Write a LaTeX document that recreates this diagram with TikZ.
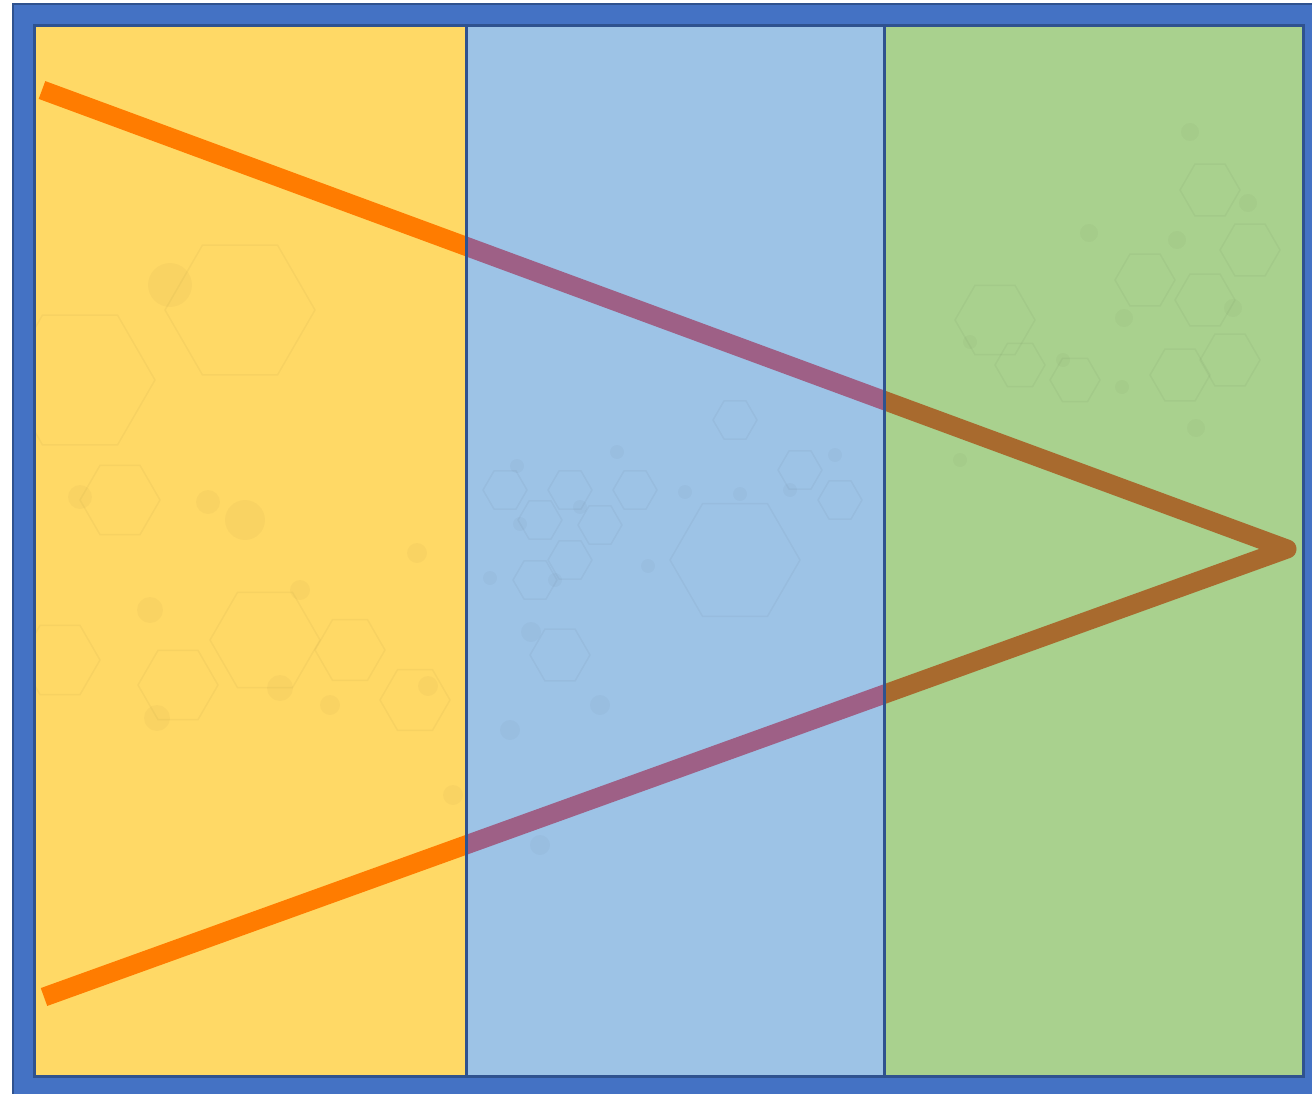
\documentclass[tikz,border=0pt]{standalone}
\definecolor{framefill}{HTML}{4472C4}
\definecolor{frameline}{HTML}{2F528F}
\definecolor{panelyellow}{HTML}{FFD966}
\definecolor{panelblue}{HTML}{9DC3E6}
\definecolor{panelgreen}{HTML}{A9D18E}
\definecolor{lineorange}{HTML}{FF7C00}
\definecolor{linepurple}{HTML}{9E6086}
\definecolor{linebrown}{HTML}{A86A2E}
\newcommand{\hexcell}[3]{%
  \draw[molecule] (#1,#2) ++(0:#3) -- ++(120:#3) -- ++(180:#3) -- ++(240:#3) -- ++(300:#3) -- ++(0:#3) -- cycle;}
\newcommand{\atomdot}[3]{\fill[atom] (#1,#2) circle (#3);}
\begin{document}
\begin{tikzpicture}[x=1pt,y=-1pt,
  panel/.style={draw=frameline,line width=3pt},
  zigzag/.style={line width=19pt,line cap=butt,line join=round},
  molecule/.style={draw=black,draw opacity=0.03,line width=1.5pt},
  atom/.style={fill=black,fill opacity=0.025}]
\useasboundingbox (0,0) rectangle (1312,1094);
\fill[white] (0,0) rectangle (1312,1094);
% outer frame
\draw[fill=framefill,draw=frameline,line width=2pt] (13,4) rectangle (1330,1110);
% panels
\fill[panelyellow] (34.5,25.5) rectangle (466,1076);
\fill[panelblue] (466,25.5) rectangle (884,1076);
\fill[panelgreen] (884,25.5) rectangle (1303.5,1076);
% faint molecular pattern
\begin{scope}
\clip (34.5,25.5) rectangle (1303.5,1076);
\hexcell{240}{310}{75}
\hexcell{80}{380}{75}
\hexcell{120}{500}{40}
\hexcell{178}{685}{40}
\hexcell{60}{660}{40}
\hexcell{265}{640}{55}
\hexcell{350}{650}{35}
\hexcell{415}{700}{35}
\atomdot{80}{497}{12}\atomdot{208}{502}{12}\atomdot{245}{520}{20}
\atomdot{150}{610}{13}\atomdot{280}{688}{13}\atomdot{157}{718}{13}
\atomdot{170}{285}{22}\atomdot{300}{590}{10}\atomdot{330}{705}{10}
\atomdot{417}{553}{10}\atomdot{428}{686}{10}\atomdot{453}{795}{10}
\hexcell{505}{490}{22}
\hexcell{570}{490}{22}
\hexcell{635}{490}{22}
\hexcell{540}{520}{22}
\hexcell{600}{525}{22}
\hexcell{570}{560}{22}
\hexcell{535}{580}{22}
\hexcell{560}{655}{30}
\hexcell{735}{420}{22}
\hexcell{800}{470}{22}
\hexcell{840}{500}{22}
\hexcell{735}{560}{65}
\atomdot{517}{466}{7}\atomdot{617}{452}{7}\atomdot{520}{524}{7}
\atomdot{580}{507}{7}\atomdot{648}{566}{7}\atomdot{555}{580}{7}
\atomdot{490}{578}{7}\atomdot{531}{632}{10}\atomdot{600}{705}{10}
\atomdot{510}{730}{10}\atomdot{685}{492}{7}\atomdot{740}{494}{7}
\atomdot{790}{490}{7}\atomdot{835}{455}{7}\atomdot{540}{845}{10}
\hexcell{1210}{190}{30}
\hexcell{1145}{280}{30}
\hexcell{1205}{300}{30}
\hexcell{1230}{360}{30}
\hexcell{1180}{375}{30}
\hexcell{1250}{250}{30}
\hexcell{1075}{380}{25}
\hexcell{1020}{365}{25}
\hexcell{995}{320}{40}
\atomdot{1190}{132}{9}\atomdot{1248}{203}{9}\atomdot{1089}{233}{9}
\atomdot{1177}{240}{9}\atomdot{1124}{318}{9}\atomdot{1233}{308}{9}
\atomdot{1063}{360}{7}\atomdot{1122}{387}{7}\atomdot{1196}{428}{9}
\atomdot{970}{342}{7}\atomdot{960}{460}{7}
\end{scope}
% zigzag line
\coordinate (A) at (42,90);
\coordinate (V) at (1287,549);
\coordinate (B) at (44,997);
\begin{scope}
\clip (0,0) rectangle (466,1094);
\draw[zigzag,lineorange] (A) -- (V) -- (B);
\end{scope}
\begin{scope}
\clip (466,0) rectangle (884,1094);
\draw[zigzag,linepurple] (A) -- (V) -- (B);
\end{scope}
\begin{scope}
\clip (884,0) rectangle (1312,1094);
\draw[zigzag,linebrown] (A) -- (V) -- (B);
\end{scope}
% panel outlines
\draw[panel] (34.5,25.5) rectangle (466,1076);
\draw[panel] (466,25.5) rectangle (884,1076);
\draw[panel] (884,25.5) rectangle (1303.5,1076);
\end{tikzpicture}
\end{document}
